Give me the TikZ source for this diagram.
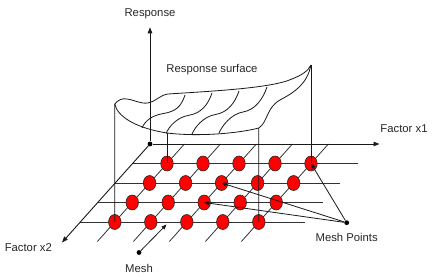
\documentclass[tikz,border=0pt]{standalone}
\usepackage{fontspec}
\setmainfont{Liberation Sans}
\usetikzlibrary{arrows.meta,positioning,shapes.geometric}
\tikzset{
  rsaxis/.style={-{Triangle[length=6pt,width=4.5pt]}, line width=0.9pt, black!90},
  rsptr/.style={-{Triangle[length=5pt,width=4pt]}, line width=0.8pt, black!90},
  rsline/.style={line width=0.8pt, black!90},
  rsgrid/.style={line width=0.8pt, black!80},
  rsdot/.style={ellipse, draw=black!85, fill=red, line width=0.6pt, minimum width=12.5pt, minimum height=15pt, inner sep=0pt},
  rspin/.style={circle, fill=black, inner sep=0pt, minimum size=4.8pt},
  rslabel/.style={font=\fontsize{11.3}{13}\selectfont, text=black!85, inner sep=0pt}
}

\begin{document}
\begin{tikzpicture}[x=1pt, y=-1pt]
  \useasboundingbox (0,0) rectangle (436,280);
  \foreach \r in {1,...,4}
    \draw[rsgrid] ({150-17.4*\r},{144+19.5*\r}) -- ({375-17.4*\r},{144+19.5*\r});
  \foreach \c in {1,...,5}
    \draw[rsgrid] ({184.4+36*(\c-1)},144) -- ({97.4+36*(\c-1)},241.5);
  \foreach \r in {1,...,4}
    \foreach \c in {1,...,5}
      \node[rsdot] (p-\r-\c) at ({167+36*(\c-1)-17.4*(\r-1)},{163.5+19.5*(\r-1)}) {};

  \node[rspin] (o) at (150,144) {};
  \coordinate (top) at (150,27.3);
  \coordinate (x1) at (379.5,144);
  \coordinate (x2) at (62,242.5);
  \draw[rsaxis] (o) -- (top);
  \draw[rsaxis] (o) -- (x1);
  \draw[rsaxis] (o) -- (x2);

  \coordinate (sl) at (114.8,104);
  \coordinate (sr) at (311,65);
  \coordinate (sa) at (167,133);
  \coordinate (sb) at (258.8,128);
  \draw[rsline] (sl) .. controls (118,100) and (122,98) .. (127,99)
    .. controls (135,100) and (140,104) .. (148,103)
    .. controls (155,102) and (160,95) .. (168,94)
    .. controls (215,91) and (272,88) .. (292,79)
    .. controls (302,75) and (308,71) .. (sr);
  \draw[rsline] (sl) .. controls (117,116) and (135,128) .. (sa)
    .. controls (200,137) and (240,133) .. (sb)
    .. controls (268,122) and (266,108) .. (280,100)
    .. controls (295,92) and (307,84) .. (sr);
  \foreach \tx/\ty/\bx/\by in {185/95/142/128, 212/93/166/133.5, 239/91/192/134, 267/87/219/133}
    \draw[rsline] (\tx,\ty) .. controls ({\tx-4},{\ty+12}) and ({(\tx+\bx)/2+12},{(\ty+\by)/2}) .. ({(\tx+\bx)/2},{(\ty+\by)/2+2})
      .. controls ({(\tx+\bx)/2-12},{(\ty+\by)/2+4}) and ({\bx+3},{\by-7}) .. (\bx,\by);
  \draw[rsline] (sl) -- (p-4-1.center);
  \draw[rsline] (sa) -- (p-1-1.center);
  \draw[rsline] (sb) -- (p-4-5.center);
  \draw[rsline] (sr) -- (p-1-5.center);

  \node[rspin] (mpin) at (346.7,222.7) {};
  \draw[rsptr] (mpin) -- (p-1-5.center);
  \draw[rsptr] (mpin) -- (p-2-3.center);
  \draw[rsptr] (mpin) -- (p-3-3.center);
  \node[rspin] (meshpin) at (139,252.5) {};
  \coordinate (mtip) at (166.5,224.5);
  \draw[rsptr] (meshpin) -- (mtip);

  \node[rslabel] (resp) at (150,13.3) {Response};
  \node[rslabel] (fx1) at (404,128.3) {Factor x1};
  \node[rslabel] (fx2) at (28.3,247.7) {Factor x2};
  \node[rslabel] (surf) at (212,70) {Response surface};
  \node[rslabel, below=8pt of mpin] (mplabel) {Mesh Points};
  \node[rslabel, below=9pt of meshpin] (meshlabel) {Mesh};
\end{tikzpicture}
\end{document}
